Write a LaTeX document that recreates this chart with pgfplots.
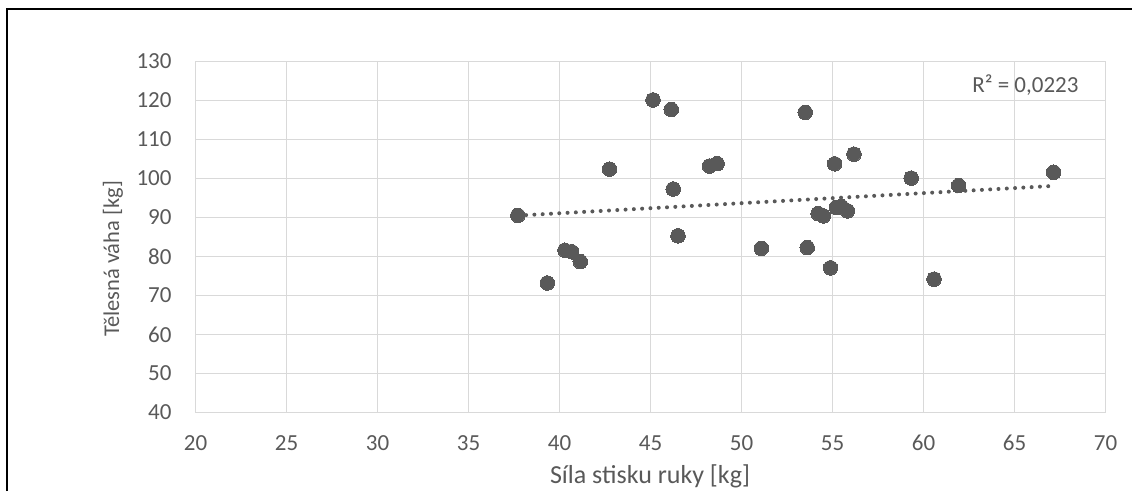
\documentclass[border=0pt]{standalone}
\usepackage{fontspec}
\setmainfont{Carlito}
\usepackage{pgfplots}
\pgfplotsset{compat=1.18}
\definecolor{mk}{HTML}{595959}
\definecolor{gridc}{HTML}{D9D9D9}
\definecolor{txt}{HTML}{595959}
\begin{document}
\begin{tikzpicture}[x=1pt,y=1pt]
\useasboundingbox (0,0) rectangle (1132,491);
\draw[black, line width=2pt] (7,0) -- (7,482) -- (1132,482);
\begin{axis}[
  at={(195.5pt,78.5pt)}, anchor=south west,
  scale only axis, width=910pt, height=351pt,
  xmin=20, xmax=70, ymin=40, ymax=130,
  xtick distance=5, ytick distance=10,
  grid=major,
  major grid style={draw=gridc, line width=1pt},
  axis line style={draw=gridc, line width=1pt},
  tick style={draw=none},
  /pgf/number format/assume math mode=true,
  ticklabel style={font=\fontsize{23}{27}\selectfont, text=txt, inner sep=0pt},
  xticklabel style={anchor=base, yshift=-37.5pt},
  yticklabel style={anchor=east, xshift=-23.8pt},
  xlabel={Síla stisku ruky [kg]},
  ylabel={Tělesná váha [kg]},
  label style={text=txt, inner sep=0pt},
  xlabel style={font=\fontsize{26}{30}\selectfont, at={(axis description cs:0.4995,-0.2017)}, anchor=base},
  ylabel style={font=\fontsize{22.5}{26}\selectfont, at={(axis description cs:-0.0907,0.4373)}, anchor=center},
]
\addplot[only marks, mark=*, mark size=7.3pt, mark options={fill=mk, draw=mk, line width=0pt}] coordinates {
(37.71,90.55) (45.14,120.15) (46.14,117.7) (42.75,102.4) (48.24,103.2)
(48.66,103.8) (46.25,97.3) (46.51,85.3) (51.09,82.1) (40.30,81.6)
(40.67,81.2) (41.14,78.7) (39.33,73.2) (53.50,116.96) (56.18,106.25)
(55.12,103.76) (59.32,100.1) (61.93,98.2) (67.15,101.6) (54.21,91.0)
(54.50,90.4) (55.21,92.6) (55.49,92.8) (55.82,91.7) (53.61,82.3)
(54.89,77.1) (60.58,74.2)
};
\addplot[mk, line width=4pt, line cap=round, dash pattern=on 0pt off 8.3pt] coordinates {(37.71,90.5) (67.15,98.1)};
\node[text=txt, font=\fontsize{23}{27}\selectfont, anchor=base, inner sep=0pt] at (axis cs:65.60,122.1) {R² = 0,0223};
\end{axis}
\end{tikzpicture}
\end{document}
